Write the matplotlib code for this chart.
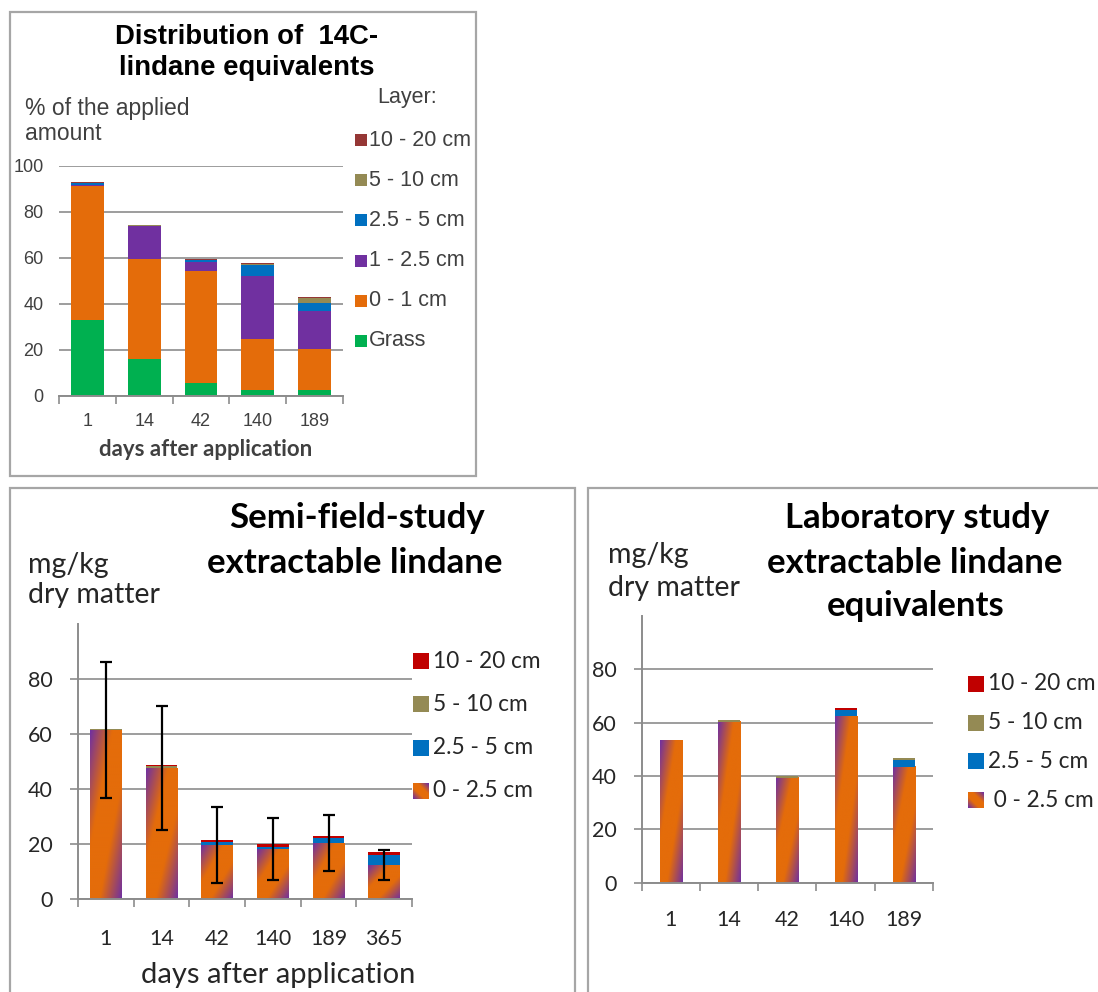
import numpy as np
import matplotlib
matplotlib.use('Agg')
import matplotlib.pyplot as plt
from matplotlib.patches import Rectangle
from matplotlib.colors import LinearSegmentedColormap
from matplotlib import font_manager

W, H = 1098, 992

# ---- data: distribution of 14C-lindane equivalents (% of applied amount)
days_top = ['1', '14', '42', '140', '189']
grass = [33.0, 16.0, 5.5, 2.5, 2.5]
top_0_1 = [58.5, 43.5, 48.7, 22.3, 17.8]
top_1_25 = [0.4, 14.3, 4.0, 27.2, 16.7]
top_25_5 = [0.8, 0.2, 0.8, 5.0, 3.6]
top_5_10 = [0.1, 0.2, 0.3, 0.4, 1.9]
top_10_20 = [0.1, 0.2, 0.3, 0.4, 0.7]

# ---- data: semi-field study, extractable lindane (mg/kg dry matter)
days_semi = ['1', '14', '42', '140', '189', '365']
semi_0_25 = [61.5, 47.6, 19.6, 18.2, 20.4, 12.3]
semi_25_5 = [0.0, 0.0, 1.0, 0.8, 1.6, 3.6]
semi_5_10 = [0.4, 0.6, 0.0, 0.0, 0.0, 0.0]
semi_10_20 = [0.0, 0.7, 0.7, 0.8, 0.7, 1.0]
semi_err = [24.8, 22.6, 13.9, 11.3, 10.2, 5.5]

# ---- data: laboratory study, extractable lindane equivalents
days_lab = ['1', '14', '42', '140', '189']
lab_0_25 = [53.5, 60.4, 39.4, 62.5, 43.5]
lab_25_5 = [0.0, 0.0, 0.0, 2.3, 2.5]
lab_5_10 = [0.0, 0.5, 0.6, 0.0, 0.6]
lab_10_20 = [0.0, 0.0, 0.0, 0.7, 0.0]

GREEN = '#00B050'
ORANGE = '#E46C0A'
PURPLE = '#7030A0'
BLUE = '#0070C0'
OLIVE = '#948A54'
BROWN = '#953735'
RED = '#C00000'
GRID = '#8C8C8C'
FRAME = '#A6A6A6'

names = {f.name for f in font_manager.fontManager.ttflist}
ARIAL = ['Liberation Sans Narrow'] if 'Liberation Sans Narrow' in names else ['Liberation Sans']
CALIBRI = ['Lato', 'DejaVu Sans']

grad_cmap = LinearSegmentedColormap.from_list(
    'pg', [(0, PURPLE), (0.35, ORANGE), (0.65, ORANGE), (1, PURPLE)])


def grad_img(n=80):
    u = np.linspace(0, 1, n)
    U, V = np.meshgrid(u, u)
    return grad_cmap((U + V) / 2)


def fx(x):
    return x / W


def fy(y):
    return 1 - y / H


def ftext(x, y, s, **kw):
    kw.setdefault('va', 'center')
    fig.text(fx(x), fy(y), s, **kw)


def fbox(x, y, w, h, color, **kw):
    fig.add_artist(Rectangle((fx(x), fy(y + h)), w / W, h / H,
                             transform=fig.transFigure, facecolor=color,
                             edgecolor='none', **kw))


def make_axes(x0, x1, y_top, y_bot):
    return fig.add_axes([fx(x0), fy(y_bot), (x1 - x0) / W, (y_bot - y_top) / H])


def style_axes(ax, n, font, tick_size, show_left, tick_color, ymax_tick,
               xpad, ylen, ypad):
    ax.set_xlim(-0.5, n - 0.5)
    ax.set_ylim(0, 100)
    ax.set_yticks(np.arange(0, ymax_tick + 1, 20))
    ax.set_xticks(np.arange(n))
    ax.set_xticks(np.arange(n + 1) - 0.5, minor=True)
    ax.tick_params(axis='x', which='major', length=0, pad=xpad)
    ax.tick_params(axis='x', which='minor', length=6, color=GRID, width=1.2)
    ax.tick_params(axis='y', length=ylen, color=GRID, width=1.2, pad=ypad)
    for lab in ax.get_xticklabels() + ax.get_yticklabels():
        lab.set_family(font)
        lab.set_fontsize(tick_size)
        lab.set_color(tick_color)
    ax.yaxis.grid(True, color=GRID, linewidth=1.2)
    ax.set_axisbelow(True)
    for s in ['top', 'right']:
        ax.spines[s].set_visible(False)
    ax.spines['left'].set_visible(show_left)
    ax.spines['left'].set_color(GRID)
    ax.spines['left'].set_linewidth(1.4)
    ax.spines['bottom'].set_color(GRID)
    ax.spines['bottom'].set_linewidth(1.4)
    ax.patch.set_alpha(0)


def gradient_bars(ax, x, vals, width):
    bars = ax.bar(x, vals, width, color=ORANGE, zorder=2)
    img = grad_img()
    for b in bars:
        ax.imshow(img, extent=(b.get_x(), b.get_x() + b.get_width(), 0, b.get_height()),
                  aspect='auto', origin='upper', zorder=2.5, interpolation='bilinear')
    return bars


fig = plt.figure(figsize=(W / 100, H / 100), dpi=100)

# panel frames
for (x0, y0, x1, y1) in [(10, 12, 476, 476), (10, 488, 575, 1000), (588, 488, 1105, 1000)]:
    fig.add_artist(Rectangle((fx(x0), fy(y1)), (x1 - x0) / W, (y1 - y0) / H,
                             transform=fig.transFigure, facecolor='none',
                             edgecolor=FRAME, linewidth=1.6))

# ---------------- top panel
ax1 = make_axes(59, 343, 166, 396)
x = np.arange(len(days_top))
bw = 0.58
bottom = np.zeros(len(x))
for vals, col in [(grass, GREEN), (top_0_1, ORANGE), (top_1_25, PURPLE),
                  (top_25_5, BLUE), (top_5_10, OLIVE), (top_10_20, BROWN)]:
    ax1.bar(x, vals, bw, bottom=bottom, color=col, zorder=2)
    bottom += np.array(vals)
ax1.set_xticklabels(days_top)
style_axes(ax1, len(x), ARIAL, 13, False, '#404040', 100, xpad=12, ylen=0, ypad=11)

ftext(247, 37, 'Distribution of  14C-', ha='center', family=['Liberation Sans'],
      weight='bold', fontsize=19.8, color='black')
ftext(247, 68, 'lindane equivalents', ha='center', family=['Liberation Sans'],
      weight='bold', fontsize=19.8, color='black')
ftext(25, 108, '% of the applied', ha='left', family=ARIAL, fontsize=16.5, color='#404040')
ftext(25, 133, 'amount', ha='left', family=ARIAL, fontsize=16.5, color='#404040')
ftext(206, 449, 'days after application', ha='center', family=CALIBRI,
      weight='bold', fontsize=16, color='#404040')
ftext(377, 98, 'Layer:', ha='left', family=ARIAL, fontsize=15.5, color='#404040')
top_labels = ['10 - 20 cm', '5 - 10 cm', '2.5 - 5 cm', '1 - 2.5 cm', '0 - 1 cm', 'Grass']
top_colors = [BROWN, OLIVE, BLUE, PURPLE, ORANGE, GREEN]
for i, (lab, col) in enumerate(zip(top_labels, top_colors)):
    yy = 140 + i * 40.2
    fbox(355, yy - 6, 12, 12, col)
    ftext(369, yy, lab, ha='left', family=ARIAL, fontsize=15.5, color='#404040')

# ---------------- semi-field panel
ax2 = make_axes(78, 412, 624.4, 898.7)
x = np.arange(len(days_semi))
bw = 0.57
gradient_bars(ax2, x, semi_0_25, bw)
bottom = np.array(semi_0_25)
for vals, col in [(semi_25_5, BLUE), (semi_5_10, OLIVE), (semi_10_20, RED)]:
    ax2.bar(x, vals, bw, bottom=bottom, color=col, zorder=3)
    bottom = bottom + np.array(vals)
ax2.errorbar(x, semi_0_25, yerr=semi_err, fmt='none', ecolor='black',
             elinewidth=1.6, capsize=4.5, capthick=1.6, zorder=5)
ax2.set_xticklabels(days_semi)
style_axes(ax2, len(x), CALIBRI, 15.5, True, '#262626', 80, xpad=22, ylen=6, ypad=12)

ftext(357, 518, 'Semi-field-study', ha='center', family=CALIBRI, weight='bold',
      fontsize=25, color='black')
ftext(355, 563, 'extractable lindane', ha='center', family=CALIBRI, weight='bold',
      fontsize=25, color='black')
ftext(28, 565, 'mg/kg', ha='left', family=CALIBRI, fontsize=20.5, color='#262626')
ftext(28, 595, 'dry matter', ha='left', family=CALIBRI, fontsize=20.5, color='#262626')
ftext(278, 975, 'days after application', ha='center', family=CALIBRI,
      fontsize=21, color='#262626')

bot_colors = [RED, OLIVE, BLUE, None]


def bottom_legend(labels, x0, y0, step, tx, size):
    for i, (lab, col) in enumerate(zip(labels, bot_colors)):
        yy = y0 + i * step
        if col is None:
            fig.figimage(grad_img(16)[::-1], xo=x0, yo=H - yy - 8, zorder=3)
        else:
            fbox(x0, yy - 8, 16, 16, col)
        ftext(tx, yy, lab, ha='left', family=CALIBRI, fontsize=size, color='#262626')


bottom_legend(['10 - 20 cm', '5 - 10 cm', '2.5 - 5 cm', '0 - 2.5 cm'],
              413, 661, 43.3, 433, 16.3)

# ---------------- laboratory panel
ax3 = make_axes(641.7, 933, 616, 882.7)
x = np.arange(len(days_lab))
bw = 0.38
gradient_bars(ax3, x, lab_0_25, bw)
bottom = np.array(lab_0_25)
for vals, col in [(lab_25_5, BLUE), (lab_5_10, OLIVE), (lab_10_20, RED)]:
    ax3.bar(x, vals, bw, bottom=bottom, color=col, zorder=3)
    bottom = bottom + np.array(vals)
ax3.set_xticklabels(days_lab)
style_axes(ax3, len(x), CALIBRI, 15.5, True, '#262626', 80, xpad=20, ylen=6, ypad=12)

ftext(917, 518, 'Laboratory study', ha='center', family=CALIBRI, weight='bold',
      fontsize=25, color='black')
ftext(915, 563, 'extractable lindane', ha='center', family=CALIBRI, weight='bold',
      fontsize=25, color='black')
ftext(916, 606, 'equivalents', ha='center', family=CALIBRI, weight='bold',
      fontsize=25, color='black')
ftext(608, 555, 'mg/kg', ha='left', family=CALIBRI, fontsize=20.5, color='#262626')
ftext(608, 588, 'dry matter', ha='left', family=CALIBRI, fontsize=20.5, color='#262626')

bottom_legend(['10 - 20 cm', '5 - 10 cm', '2.5 - 5 cm', ' 0 - 2.5 cm'],
              968, 684, 38.7, 988, 16.3)

fig.savefig('out.png', dpi=100)
